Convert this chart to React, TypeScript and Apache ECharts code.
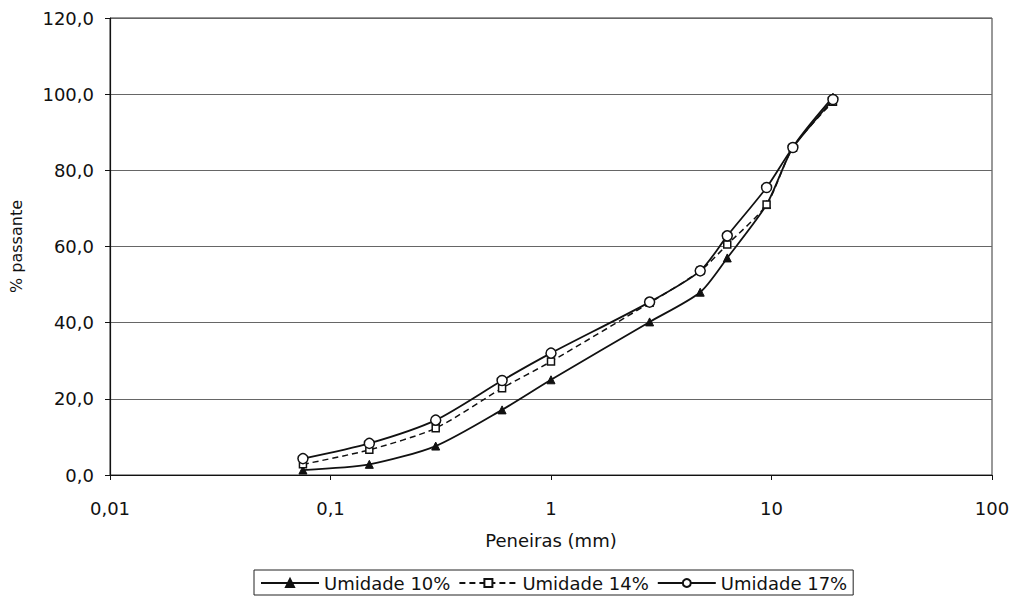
import React, { useEffect, useRef } from "react";
import * as echarts from "echarts";

const sieves = [0.075, 0.15, 0.3, 0.6, 1.0, 2.8, 4.75, 6.3, 9.5, 12.5, 19];
const umidade10 = [1.3, 2.8, 7.6, 17.1, 25.0, 40.2, 48.0, 57.0, 71.0, 86.0, 99.2];
const umidade14 = [2.8, 6.6, 12.3, 22.8, 29.8, 45.2, 53.6, 60.5, 71.0, 86.0, 98.0];
const umidade17 = [4.3, 8.3, 14.4, 24.8, 32.0, 45.4, 53.6, 62.8, 75.5, 86.0, 98.6];
const seriesNames = ["Umidade 10%", "Umidade 14%", "Umidade 17%"];
const yTicks = [0, 20, 40, 60, 80, 100, 120];

const FONT = "'DejaVu Sans', 'Liberation Sans', Arial, sans-serif";

function pairs(ys: number[]) {
  return sieves.map((x, i) => [x, ys[i]]);
}

export default function App() {
  const ref = useRef<HTMLDivElement>(null);
  useEffect(() => {
    if (!ref.current) return;
    const chart = echarts.init(ref.current, undefined, { renderer: "svg" });
    const base = {
      type: "line",
      smooth: 0.25,
      symbolSize: 8,
      lineStyle: { color: "#111", width: 1.8 },
      itemStyle: { color: "#fff", borderColor: "#111", borderWidth: 1.5 },
      z: 3,
    };
    chart.setOption({
      animation: false,
      backgroundColor: "#fff",
      textStyle: { fontFamily: FONT, color: "#111" },
      grid: {
        left: 109,
        right: 24,
        top: 18,
        bottom: 127,
        show: true,
        borderColor: "#333",
        borderWidth: 1,
        backgroundColor: "transparent",
      },
      xAxis: {
        type: "log",
        logBase: 10,
        min: 0.01,
        max: 100,
        name: "Peneiras (mm)",
        nameLocation: "middle",
        nameGap: 56,
        nameTextStyle: { fontSize: 18, color: "#111", fontFamily: FONT },
        axisLine: { onZero: false, lineStyle: { color: "#111", width: 1.2 } },
        axisTick: { show: true, length: 5, lineStyle: { color: "#111" } },
        minorTick: { show: false },
        splitLine: { show: false },
        axisLabel: {
          fontSize: 18,
          color: "#111",
          margin: 24,
          fontFamily: FONT,
          formatter: (v: number) => String(Number(v.toPrecision(6))).replace(".", ","),
        },
      },
      yAxis: {
        type: "value",
        min: 0,
        max: 120,
        interval: 20,
        name: "% passante",
        nameLocation: "middle",
        nameGap: 86,
        nameRotate: 90,
        nameTextStyle: { fontSize: 16, color: "#111", fontFamily: FONT },
        axisLine: { show: true, lineStyle: { color: "#111", width: 1.2 } },
        axisTick: { show: true, length: 5, lineStyle: { color: "#111" } },
        splitLine: { show: true, lineStyle: { color: "#666", width: 1.2 } },
        axisLabel: {
          fontSize: 18,
          color: "#111",
          margin: 16,
          fontFamily: FONT,
          customValues: yTicks,
          formatter: (v: number) => v.toFixed(1).replace(".", ","),
        },
      },
      legend: {
        left: 254,
        top: 570,
        padding: [4, 6, 3, 6],
        borderColor: "#222",
        borderWidth: 1,
        itemWidth: 58,
        itemHeight: 10,
        itemGap: 8,
        textStyle: { fontSize: 18, color: "#111", fontFamily: FONT },
        data: seriesNames,
      },
      series: [
        {
          ...base,
          name: seriesNames[0],
          data: pairs(umidade10),
          symbol: "triangle",
          symbolSize: 8,
          itemStyle: { color: "#111", borderColor: "#111", borderWidth: 1 },
        },
        {
          ...base,
          name: seriesNames[1],
          data: pairs(umidade14),
          symbol: "rect",
          symbolSize: 7,
          lineStyle: { color: "#111", width: 1.5, type: [6, 4] },
        },
        {
          ...base,
          name: seriesNames[2],
          data: pairs(umidade17),
          symbol: "circle",
          symbolSize: 10,
        },
      ],
    });
    return () => chart.dispose();
  }, []);
  return (
    <div
      ref={ref}
      style={{ position: "fixed", left: 0, top: 0, width: 1016, height: 602, background: "#fff" }}
    />
  );
}
